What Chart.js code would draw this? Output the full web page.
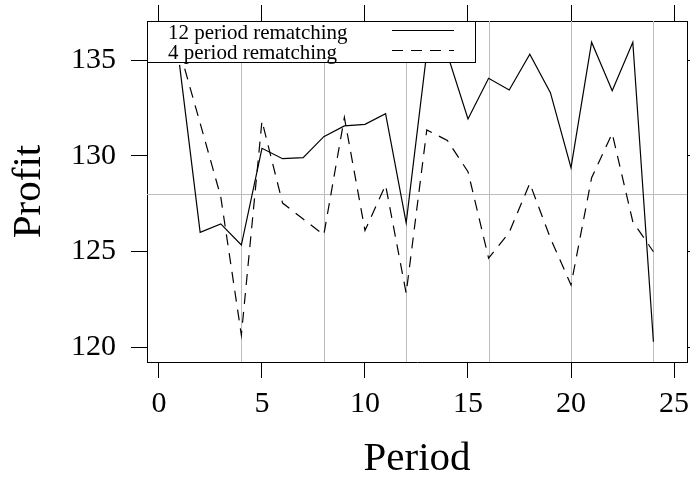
<!DOCTYPE html>
<html>
<head>
<meta charset="utf-8">
<script src="https://cdn.jsdelivr.net/npm/chart.js@4/dist/chart.umd.min.js"></script>
<style>
  body { margin: 0; background: #fff; }
</style>
</head>
<body>
<canvas id="profitChart" width="690" height="480"></canvas>
<script>
// Profit per period, two rematching schemes
var periods = [1,2,3,4,5,6,7,8,9,10,11,12,13,14,15,16,17,18,19,20,21,22,23,24];
var rematch12 = [134.75,126.0,126.44,125.34,130.39,129.85,129.9,131.0,131.56,131.64,132.2,126.5,
                 135.4,135.3,131.92,134.05,133.44,135.3,133.3,129.38,135.93,133.4,135.93,120.29];
var rematch4 = [135.5,131.7,127.86,120.64,131.82,127.53,126.7,125.86,132.0,126.1,128.47,122.82,
                131.35,130.8,129.17,124.65,126.0,128.56,125.7,123.25,128.85,131.17,126.56,124.99];
var xTicks = [0,5,10,15,20,25];
var yTicks = [120,125,130,135];
// grey reference lines
var refPeriods = [4,8,12,16,20,24];
var refProfit = [128];

var serif = "'Liberation Serif', 'Times New Roman', serif";
Chart.defaults.font.family = serif;
Chart.defaults.color = '#000';

function toPoints(ys) {
  return periods.map(function (p, i) { return { x: p, y: ys[i] }; });
}

function fixTicks(list) {
  return function (scale) {
    scale.ticks = list.map(function (v) { return { value: v }; });
  };
}

// fixed axis box sizes, no extra room for overhanging labels
function sizeTo(w, h) {
  return function (scale) {
    if (w != null) scale.width = w;
    if (h != null) scale.height = h;
    scale.paddingTop = scale.paddingBottom = 0;
    scale.paddingLeft = scale.paddingRight = 0;
  };
}

var tickGrid = { drawOnChartArea: false, tickLength: 16, color: '#000', lineWidth: 1 };
var boxBorder = { color: '#000', width: 1 };

var refLines = {
  id: 'refLines',
  beforeDatasetsDraw: function (chart) {
    var ctx = chart.ctx, a = chart.chartArea;
    var xs = chart.scales.x, ys = chart.scales.y;
    ctx.save();
    ctx.strokeStyle = '#bdbdbd';
    ctx.lineWidth = 1;
    ctx.beginPath();
    refPeriods.forEach(function (p) {
      var px = Math.round(xs.getPixelForValue(p)) + 0.5;
      ctx.moveTo(px, a.top);
      ctx.lineTo(px, a.bottom);
    });
    refProfit.forEach(function (v) {
      var py = Math.round(ys.getPixelForValue(v)) + 0.5;
      ctx.moveTo(a.left, py);
      ctx.lineTo(a.right, py);
    });
    ctx.stroke();
    ctx.restore();
  }
};

// key box in the top left corner, drawn over the lines
var keyBox = {
  id: 'keyBox',
  afterDatasetsDraw: function (chart) {
    var ctx = chart.ctx, a = chart.chartArea;
    var x0 = a.left + 0.5, y0 = a.top + 0.5, w = 328, h = 41;
    ctx.save();
    ctx.fillStyle = '#fff';
    ctx.fillRect(x0, y0, w, h);
    ctx.strokeStyle = '#000';
    ctx.lineWidth = 1;
    ctx.strokeRect(x0, y0, w, h);
    ctx.font = '21px ' + serif;
    ctx.fillStyle = '#000';
    ctx.textBaseline = 'alphabetic';
    chart.data.datasets.forEach(function (ds, i) {
      var base = y0 + 17 + i * 20;
      ctx.fillText(ds.label, a.left + 21, base);
      ctx.beginPath();
      ctx.setLineDash(ds.borderDash || []);
      ctx.lineWidth = ds.borderWidth;
      ctx.moveTo(a.left + 245, base - 8);
      ctx.lineTo(a.left + 307, base - 8);
      ctx.stroke();
    });
    ctx.restore();
  }
};

new Chart(document.getElementById('profitChart'), {
  type: 'line',
  data: {
    datasets: [
      {
        label: '12 period rematching',
        data: toPoints(rematch12),
        borderColor: '#000',
        borderWidth: 1.2,
        pointRadius: 0,
        tension: 0,
        fill: false
      },
      {
        label: '4 period rematching',
        data: toPoints(rematch4),
        borderColor: '#000',
        borderWidth: 1.2,
        borderDash: [11, 8],
        pointRadius: 0,
        tension: 0,
        fill: false
      }
    ]
  },
  options: {
    responsive: false,
    animation: false,
    layout: { padding: 0 },
    plugins: {
      legend: { display: false },
      tooltip: { enabled: false }
    },
    scales: {
      x: {
        type: 'linear',
        position: 'bottom',
        min: -0.58,
        max: 25.63,
        afterBuildTicks: fixTicks(xTicks),
        afterFit: sizeTo(null, 118),
        grid: tickGrid,
        border: boxBorder,
        ticks: { font: { size: 30 }, padding: 8, maxRotation: 0, autoSkip: false },
        title: { display: true, text: 'Period', font: { size: 41, lineHeight: 1 }, padding: { top: 0, bottom: 0 } }
      },
      x2: {
        type: 'linear',
        position: 'top',
        min: -0.58,
        max: 25.63,
        afterBuildTicks: fixTicks(xTicks),
        afterFit: sizeTo(null, 21),
        grid: tickGrid,
        border: boxBorder,
        ticks: { display: false }
      },
      y: {
        type: 'linear',
        position: 'left',
        min: 119.23,
        max: 137.04,
        afterBuildTicks: fixTicks(yTicks),
        afterFit: sizeTo(147, null),
        grid: tickGrid,
        border: boxBorder,
        ticks: { font: { size: 30 }, padding: 15 },
        title: { display: true, text: 'Profit', font: { size: 41, lineHeight: 1 }, padding: { top: 9, bottom: 0 } }
      },
      y2: {
        type: 'linear',
        position: 'right',
        min: 119.23,
        max: 137.04,
        afterBuildTicks: fixTicks(yTicks),
        afterFit: sizeTo(3, null),
        grid: tickGrid,
        border: boxBorder,
        ticks: { display: false }
      }
    }
  },
  plugins: [refLines, keyBox]
});
</script>
</body>
</html>
